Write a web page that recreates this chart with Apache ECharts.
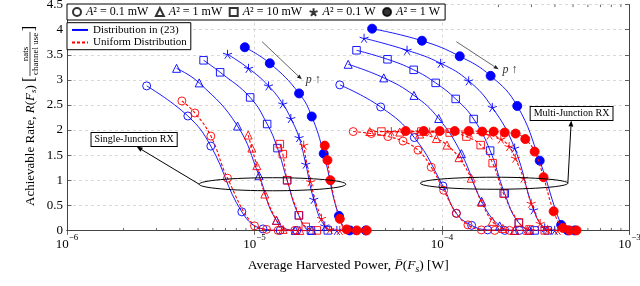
<!DOCTYPE html>
<html><head><meta charset="utf-8">
<script src="https://cdn.jsdelivr.net/npm/echarts@6/dist/echarts.min.js"></script>
<style>html,body{margin:0;padding:0;background:#fff}#c{width:640px;height:286px}</style>
</head><body><div id="c"></div>
<script>
// ---------------- data (x: average harvested power [W], y: achievable rate) ----------------
const powerLabels = ['A² = 0.1 mW', 'A² = 1 mW', 'A² = 10 mW', 'A² = 0.1 W', 'A² = 1 W'];
const distLabels = ['Distribution in (23)', 'Uniform Distribution'];

// Single-junction RX, distribution in (23)
const sjDist_01mW = [[2.66e-6,2.88],[4.41e-6,2.28],[5.85e-6,1.68],[8.56e-6,0.37],[1.11e-5,0.03],[1.37e-5,0],[1.68e-5,0]];
const sjDist_1mW  = [[3.84e-6,3.23],[5.07e-6,2.94],[8.12e-6,2.08],[1.058e-5,1.09],[1.31e-5,0.20],[1.65e-5,0],[2.02e-5,0]];
const sjDist_10mW = [[5.35e-6,3.39],[6.56e-6,3.15],[9.48e-6,2.65],[1.168e-5,2.12],[1.326e-5,1.64],[1.493e-5,1.00],[1.722e-5,0.30],[2.0e-5,0],[2.46e-5,0]];
const sjDist_01W  = [[7.18e-6,3.51],[9.29e-6,3.23],[1.188e-5,2.88],[1.416e-5,2.52],[1.562e-5,2.23],[1.729e-5,1.85],[1.877e-5,1.32],[2.07e-5,0.62],[2.37e-5,0.09],[2.75e-5,0],[3.30e-5,0]];
const sjDist_1W   = [[8.88e-6,3.65],[1.207e-5,3.33],[1.729e-5,2.73],[2.02e-5,2.27],[2.34e-5,1.53],[2.82e-5,0.29],[3.22e-5,0],[3.92e-5,0]];
// Single-junction RX, uniform distribution
const sjUnif_01mW = [[4.10e-6,2.58],[4.81e-6,2.34],[5.85e-6,1.88],[7.18e-6,1.04],[1.0e-5,0.09],[1.159e-5,0.02],[1.336e-5,0],[1.64e-5,0]];
const sjUnif_1mW  = [[9.25e-6,1.90],[9.68e-6,1.64],[1.029e-5,1.29],[1.135e-5,0.725],[1.31e-5,0.20],[1.42e-5,0.02],[1.744e-5,0]];
const sjUnif_10mW = [[1.365e-5,1.72],[1.416e-5,1.52],[1.493e-5,1.00],[1.729e-5,0.30],[1.877e-5,0.07],[2.15e-5,0]];
const sjUnif_01W  = [[1.83e-5,1.70],[1.99e-5,0.97],[2.276e-5,0.24],[2.52e-5,0.02],[2.85e-5,0]];
const sjUnif_1W   = [[2.37e-5,1.69],[2.45e-5,1.40],[2.54e-5,1.00],[2.85e-5,0.23],[3.10e-5,0.02],[3.51e-5,0],[3.97e-5,0]];
// Multi-junction RX, distribution in (23)
const mjDist_01mW = [[2.85e-5,2.90],[4.71e-5,2.46],[7.12e-5,1.85],[1.012e-4,0.885],[1.193e-4,0.34],[1.439e-4,0.10],[1.752e-4,0.01],[2.16e-4,0],[2.59e-4,0]];
const mjDist_1mW  = [[3.16e-5,3.31],[4.89e-5,3.04],[7.09e-5,2.69],[9.60e-5,2.23],[1.269e-4,1.53],[1.627e-4,0.58],[2.03e-4,0.09],[2.44e-4,0],[2.93e-4,0]];
const mjDist_10mW = [[3.50e-5,3.59],[5.12e-5,3.41],[7.06e-5,3.20],[9.25e-5,2.94],[1.183e-4,2.62],[1.475e-4,2.22],[1.806e-4,1.59],[2.16e-4,0.735],[2.57e-4,0.15],[3.12e-4,0],[3.66e-4,0]];
const mjDist_01W  = [[3.84e-5,3.83],[6.51e-5,3.59],[9.84e-5,3.33],[1.388e-4,2.98],[1.856e-4,2.45],[2.44e-4,1.64],[3.08e-4,0.41],[3.53e-4,0.05],[3.99e-4,0]];
const mjDist_1W   = [[4.24e-5,4.02],[7.82e-5,3.78],[1.243e-4,3.47],[1.817e-4,3.08],[2.52e-4,2.48],[3.32e-4,1.39],[4.32e-4,0.11],[4.68e-4,0],[5.10e-4,0]];
// Multi-junction RX, uniform distribution
const mjUnif_01mW = [[3.36e-5,1.97],[4.20e-5,1.93],[5.15e-5,1.87],[6.19e-5,1.78],[7.45e-5,1.60],[8.76e-5,1.26],[1.021e-4,0.80],[1.193e-4,0.34],[1.375e-4,0.11],[1.621e-4,0.01],[1.91e-4,0],[2.29e-4,0]];
const mjUnif_1mW  = [[4.12e-5,1.97],[5.95e-5,1.96],[7.60e-5,1.92],[9.33e-5,1.83],[1.063e-4,1.70],[1.232e-4,1.45],[1.431e-4,1.04],[1.627e-4,0.56],[1.856e-4,0.18],[2.11e-4,0.04],[2.44e-4,0],[2.86e-4,0]];
const mjUnif_10mW = [[4.75e-5,1.97],[7.76e-5,1.97],[1.099e-4,1.95],[1.349e-4,1.87],[1.608e-4,1.70],[1.863e-4,1.34],[2.13e-4,0.735],[2.57e-4,0.16],[2.93e-4,0.02],[3.53e-4,0]];
const mjUnif_01W  = [[5.37e-5,1.97],[8.60e-5,1.96],[1.405e-4,1.94],[1.795e-4,1.90],[2.06e-4,1.82],[2.28e-4,1.67],[2.46e-4,1.44],[2.72e-4,1.04],[2.99e-4,0.54],[3.34e-4,0.14],[3.66e-4,0.02],[4.14e-4,0]];
const mjUnif_1W   = [[6.40e-5,1.98],[7.99e-5,1.98],[9.72e-5,1.98],[1.169e-4,1.98],[1.388e-4,1.98],[1.638e-4,1.97],[1.886e-4,1.97],[2.16e-4,1.95],[2.47e-4,1.93],[2.78e-4,1.82],[3.12e-4,1.57],[3.48e-4,1.06],[3.94e-4,0.38],[4.41e-4,0.05],[4.79e-4,0],[5.22e-4,0]];

const yTicks = [0,0.5,1,1.5,2,2.5,3,3.5,4,4.5];
const minorTickVals = [2e-6,3e-6,4e-6,5e-6,6e-6,7e-6,8e-6,9e-6,2e-5,3e-5,4e-5,5e-5,6e-5,7e-5,8e-5,9e-5,2e-4,3e-4,4e-4,5e-4,6e-4,7e-4,8e-4,9e-4];

// annotation anchors in data coordinates
const sjEllipse = {left:[5.07e-6,0.92], right:[3.07e-5,0.92], ry:0.13};
const mjEllipse = {left:[7.67e-5,0.94], right:[4.69e-4,0.94], ry:0.12};
const sjLabelPos = [2.28e-6,1.81];
const mjLabelPos = [4.91e-4,2.33];
const sjArrowEnd = [2.35e-6,1.67];
const mjArrowEnd = [4.89e-4,2.19];
const pArrowSJ = {from:[1.098e-5,3.76], to:[1.788e-5,3.01], text:[1.877e-5,3.0]};
const pArrowMJ = {from:[1.193e-4,3.76], to:[2.005e-4,3.21], text:[2.105e-4,3.19]};

// ---------------- styling ----------------
const FONT = '"Liberation Serif","Times New Roman",serif';
const BLUE = '#0000ff', RED = '#ff0000';
const starPath = 'path://M5,0L5,5M0.245,3.455L5,5M2.061,9.045L5,5M7.939,9.045L5,5M9.755,3.455L5,5';
const marks = [
  {symbol:'circle', size:8, filled:false},
  {symbol:'triangle', size:8, filled:false},
  {symbol:'rect', size:7.5, filled:false},
  {symbol:starPath, size:9, filled:false, star:true},
  {symbol:'circle', size:9, filled:true}
];

const sjDist = [sjDist_01mW, sjDist_1mW, sjDist_10mW, sjDist_01W, sjDist_1W];
const sjUnif = [sjUnif_01mW, sjUnif_1mW, sjUnif_10mW, sjUnif_01W, sjUnif_1W];
const mjDist = [mjDist_01mW, mjDist_1mW, mjDist_10mW, mjDist_01W, mjDist_1W];
const mjUnif = [mjUnif_01mW, mjUnif_1mW, mjUnif_10mW, mjUnif_01W, mjUnif_1W];

function curve(name, data, k, color, dashed) {
  const m = marks[k];
  return {
    name, type:'line', data, smooth:0.45,
    symbol:m.symbol, symbolSize:m.size, showAllSymbol:true,
    lineStyle:{color, width: dashed ? 1.1 : 0.9, type: dashed ? [3,2] : 'solid'},
    itemStyle:{color: m.filled ? color : 'transparent', borderColor:color, borderWidth: 0.9},
    emphasis:{disabled:true}, z: dashed ? 3 : 2
  };
}
const series = [];
for (let k=0;k<5;k++) series.push(curve('sjD'+k, sjDist[k], k, BLUE, false));
for (let k=0;k<5;k++) series.push(curve('mjD'+k, mjDist[k], k, BLUE, false));
for (let k=0;k<5;k++) series.push(curve('sjU'+k, sjUnif[k], k, RED, true));
for (let k=0;k<5;k++) series.push(curve('mjU'+k, mjUnif[k], k, RED, true));
// legend-only series
powerLabels.forEach((n,k)=>{
  const m = marks[k];
  series.push({name:n, type:'scatter', data:[], symbol:m.symbol, symbolSize:m.size,
    itemStyle:{color: m.filled ? '#000' : 'transparent', borderColor:'#000', borderWidth:1.1}});
});
series.push({name:distLabels[0], type:'line', data:[], symbol:'none', itemStyle:{color:BLUE}, lineStyle:{color:BLUE, width:1}});
series.push({name:distLabels[1], type:'line', data:[], symbol:'none', itemStyle:{color:RED}, lineStyle:{color:RED, width:1.1, type:[3,2]}});
// minor log ticks on bottom/top edges
series.push({
  type:'custom', silent:true, clip:false, z:5,
  data: minorTickVals.map(v=>[v,0]), encode:{x:0,y:1},
  renderItem(params, api){
    const v = api.value(0);
    const pb = api.coord([v, yTicks[0]]);
    const pt = api.coord([v, yTicks[yTicks.length-1]]);
    return {type:'group', children:[
      {type:'line', shape:{x1:pb[0],y1:pb[1],x2:pb[0],y2:pb[1]-2.5}, style:{stroke:'#444',lineWidth:0.8}},
      {type:'line', shape:{x1:pt[0],y1:pt[1],x2:pt[0],y2:pt[1]+2.5}, style:{stroke:'#444',lineWidth:0.8}}
    ]};
  }
});

const axisCommon = {
  axisLine:{show:true, lineStyle:{color:'#444', width:1}},
  axisTick:{show:true, inside:true, length:4.5, lineStyle:{color:'#444', width:0.8}}
};

const option = {
  animation:false,
  backgroundColor:'#fff',
  grid:{left:67, right:10.5, top:4.6, bottom:55.6, outerBoundsMode:'none'},
  xAxis:[
    Object.assign({type:'log', logBase:10, min:1e-6, max:1e-3, position:'bottom',
      name:'Average Harvested Power, {i|P\u0304}({i|F}{sub|s}) [W]', nameLocation:'middle', nameGap:14,
      nameTextStyle:{fontFamily:FONT, fontSize:13.5, color:'#000', lineHeight:18,
        rich:{i:{fontFamily:FONT, fontSize:13.5, fontStyle:'italic', lineHeight:18},
              sub:{fontFamily:FONT, fontSize:9.5, fontStyle:'italic', verticalAlign:'bottom', lineHeight:12}}},
      axisLabel:{margin:3, color:'#000', fontFamily:FONT,
        formatter:v=>'{b|10}{s|\u2212'+Math.abs(Math.round(Math.log10(v)))+'}',
        rich:{b:{fontFamily:FONT, fontSize:13, lineHeight:18, verticalAlign:'bottom'},
              s:{fontFamily:FONT, fontSize:9, verticalAlign:'top', lineHeight:12}}},
      splitLine:{show:true, lineStyle:{color:'#cfcfcf', type:[3,3], width:0.8}}
    }, axisCommon),
    Object.assign({type:'log', logBase:10, min:1e-6, max:1e-3, position:'top',
      axisLabel:{show:false}, splitLine:{show:false}}, axisCommon)
  ],
  yAxis:[
    Object.assign({type:'value', min:yTicks[0], max:yTicks[yTicks.length-1], interval:0.5, position:'left',
      axisLabel:{margin:4, color:'#000', fontFamily:FONT, fontSize:13},
      splitLine:{show:true, lineStyle:{color:'#cfcfcf', type:[3,3], width:0.8}}}, axisCommon),
    Object.assign({type:'value', min:yTicks[0], max:yTicks[yTicks.length-1], interval:0.5, position:'right',
      axisLabel:{show:false}, splitLine:{show:false}}, axisCommon)
  ],
  legend:[
    {data:powerLabels, orient:'horizontal', left:67, top:4, itemWidth:8, itemHeight:8, itemGap:6.5,
     padding:[2,5,2,5], borderColor:'#000', borderWidth:1, backgroundColor:'#fff', selectedMode:false, z:20,
     formatter:n=>'{i|A}'+n.slice(1),
     textStyle:{fontFamily:FONT, fontSize:12, color:'#000',
       rich:{i:{fontFamily:FONT, fontSize:12, fontStyle:'italic', color:'#000'}}}},
    {data:distLabels, orient:'vertical', left:67, top:22.7, itemWidth:16, itemHeight:8, itemGap:0,
     padding:[1,4,1,4], borderColor:'#000', borderWidth:1, backgroundColor:'#fff', selectedMode:false, z:20,
     itemStyle:{opacity:0},
     textStyle:{fontFamily:FONT, fontSize:11, color:'#000', lineHeight:12.5}}
  ],
  series
};

const chart = echarts.init(document.getElementById('c'), null, {renderer:'canvas'});
chart.setOption(option);

// ---------------- annotations ----------------
const px = p => chart.convertToPixel({gridIndex:0}, p);
function arrow(a, b, head, color, lw) {
  const dx=b[0]-a[0], dy=b[1]-a[1], L=Math.hypot(dx,dy), ux=dx/L, uy=dy/L;
  const bx=b[0]-ux*head, by=b[1]-uy*head, nx=-uy*head*0.4, ny=ux*head*0.4;
  return [
    {type:'line', silent:true, z:30, shape:{x1:a[0],y1:a[1],x2:bx,y2:by}, style:{stroke:color,lineWidth:lw}},
    {type:'polygon', silent:true, z:30, shape:{points:[[b[0],b[1]],[bx+nx,by+ny],[bx-nx,by-ny]]}, style:{fill:color}}
  ];
}
function ellipse(e) {
  const l = px(e.left), r = px(e.right), t = px([e.left[0], e.left[1]+e.ry]);
  return {type:'ellipse', silent:true, z:30, shape:{cx:(l[0]+r[0])/2, cy:(l[1]+r[1])/2, rx:(r[0]-l[0])/2, ry:Math.abs(l[1]-t[1])},
    style:{stroke:'#000', fill:null, lineWidth:1}};
}
function boxLabel(text, p) {
  const q = px(p);
  return {type:'text', silent:true, z:31, x:q[0], y:q[1], style:{text, font:'10px '+FONT, fill:'#000',
    align:'center', verticalAlign:'middle', backgroundColor:'#fff', borderColor:'#000', borderWidth:1, padding:[2,3,1,3]}};
}
function pLabel(p) {
  const q = px(p);
  return {type:'text', silent:true, z:31, x:q[0], y:q[1], style:{text:'{i|p} \u2191', font:'12px '+FONT, fill:'#333',
    align:'left', verticalAlign:'middle', rich:{i:{fontStyle:'italic', fontFamily:FONT, fontSize:12, fill:'#333'}}}};
}

// rotated y-axis title with fraction
const ctx = document.createElement('canvas').getContext('2d');
function tw(t, size, style){ ctx.font = (style||'normal')+' '+size+'px '+FONT; return ctx.measureText(t).width; }
const M = 13, S = 9, FR = 9, BR = 16;
const parts = [
  {t:'Achievable Rate, ', s:M}, {t:'R', s:M, st:'italic'}, {t:'(', s:M}, {t:'F', s:M, st:'italic'},
  {t:'s', s:S, st:'italic', dy:3.5}, {t:') ', s:M}, {t:'[', s:BR, dy:-0.5}
];
let cur = 0; const kids = [];
parts.forEach(p=>{ p.x = cur; cur += tw(p.t, p.s, p.st); });
const fracW = Math.max(tw('nats',FR), tw('channel use',FR)) + 2;
const fracX = cur + 0.5; cur += fracW + 1;
const closeX = cur; cur += tw(']', BR);
const half = cur/2;
parts.forEach(p=>kids.push({type:'text', x:p.x-half, y:(p.dy||0), style:{text:p.t, font:(p.st||'normal')+' '+p.s+'px '+FONT, fill:'#000', verticalAlign:'middle', align:'left'}}));
kids.push({type:'text', x:fracX+fracW/2-half, y:-5, style:{text:'nats', font:FR+'px '+FONT, fill:'#000', align:'center', verticalAlign:'middle'}});
kids.push({type:'text', x:fracX+fracW/2-half, y:4.8, style:{text:'channel use', font:FR+'px '+FONT, fill:'#000', align:'center', verticalAlign:'middle'}});
kids.push({type:'line', shape:{x1:fracX-half, y1:-0.5, x2:fracX+fracW-half, y2:-0.5}, style:{stroke:'#000', lineWidth:0.7}});
kids.push({type:'text', x:closeX-half, y:-0.5, style:{text:']', font:BR+'px '+FONT, fill:'#000', verticalAlign:'middle', align:'left'}});

const sjL = px(sjEllipse.left), mjR = px(mjEllipse.right);
const graphics = [
  ellipse(sjEllipse), ellipse(mjEllipse),
  ...arrow(sjL, px(sjArrowEnd), 6, '#000', 1),
  ...arrow(mjR, px(mjArrowEnd), 6, '#000', 1),
  ...arrow(px(pArrowSJ.from), px(pArrowSJ.to), 5, '#222', 0.7),
  ...arrow(px(pArrowMJ.from), px(pArrowMJ.to), 5, '#222', 0.7),
  boxLabel('Single-Junction RX', sjLabelPos), boxLabel('Multi-Junction RX', mjLabelPos),
  pLabel(pArrowSJ.text), pLabel(pArrowMJ.text),
  {type:'group', x:30.5, y:116, rotation:Math.PI/2, silent:true, children:kids}
];
chart.setOption({graphic:graphics});
</script></body></html>
